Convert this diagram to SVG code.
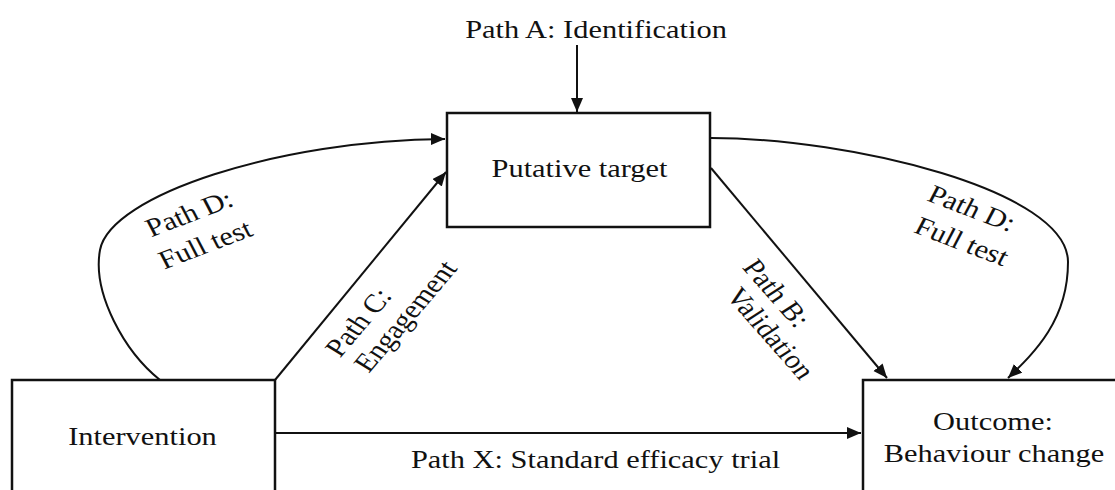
<svg xmlns="http://www.w3.org/2000/svg" width="1115" height="490" viewBox="0 0 1115 490">
  <style>
    .box { fill: #ffffff; stroke: #111111; stroke-width: 2.5; }
    .edge { fill: none; stroke: #111111; stroke-width: 2; marker-end: url(#head); }
    .lbl { font-family: "Liberation Serif", "Times New Roman", serif; font-size: 26px; fill: #111111; text-anchor: middle; }
  </style>
  <defs>
    <marker id="head" markerUnits="userSpaceOnUse" markerWidth="16" markerHeight="14" refX="14" refY="6" orient="auto">
      <path d="M0,0 L14,6 L0,12 z" fill="#111111"/>
    </marker>
  </defs>
  <rect width="1115" height="490" fill="#ffffff"/>

  <!-- connectors -->
  <g id="connectors">
    <path id="path-a" class="edge" d="M577,45 L577,112"/>
    <path id="path-c" class="edge" d="M275,380 L446,172"/>
    <path id="path-b" class="edge" d="M711,168 L887,378"/>
    <path id="path-x" class="edge" d="M275,433 L861,433"/>
    <path id="path-d-left" class="edge" d="M160,380 C125,352 92,294 100,250 C110,195 280,140 445,139"/>
    <path id="path-d-right" class="edge" d="M711,138 C850,138 1068,190 1068,262 C1068,320 1035,352 1008,378"/>

    <text class="lbl" transform="translate(596,38) scale(1.17,1)">Path A: Identification</text>
    <text class="lbl" transform="translate(595.5,468) scale(1.17,1)">Path X: Standard efficacy trial</text>

    <text class="lbl" transform="translate(189,213) scale(1.17,1) rotate(-24)" y="9">Path D:</text>
    <text class="lbl" transform="translate(205,244) scale(1.17,1) rotate(-24)" y="9">Full test</text>

    <text class="lbl" transform="translate(972,208) scale(1.17,1) rotate(24)" y="9">Path D:</text>
    <text class="lbl" transform="translate(962,241) scale(1.17,1) rotate(24)" y="9">Full test</text>

    <text class="lbl" transform="translate(358,322) scale(1.17,1) rotate(-54)" y="9">Path C:</text>
    <text class="lbl" transform="translate(405,316) scale(1.17,1) rotate(-54)" y="9">Engagement</text>

    <text class="lbl" transform="translate(777,293) scale(1.17,1) rotate(53)" y="9">Path B:</text>
    <text class="lbl" transform="translate(771,333) scale(1.17,1) rotate(53)" y="9">Validation</text>
  </g>

  <!-- nodes -->
  <g id="putative-target">
    <rect class="box" x="447" y="113" width="263" height="114"/>
    <text class="lbl" transform="translate(579.5,177) scale(1.17,1)">Putative target</text>
  </g>
  <g id="intervention">
    <rect class="box" x="12" y="380" width="263" height="130"/>
    <text class="lbl" transform="translate(142.5,445) scale(1.17,1)">Intervention</text>
  </g>
  <g id="outcome">
    <rect class="box" x="863" y="380" width="270" height="130"/>
    <text class="lbl" transform="translate(993,430) scale(1.17,1)">Outcome:</text>
    <text class="lbl" transform="translate(994,462) scale(1.17,1)">Behaviour change</text>
  </g>
</svg>
